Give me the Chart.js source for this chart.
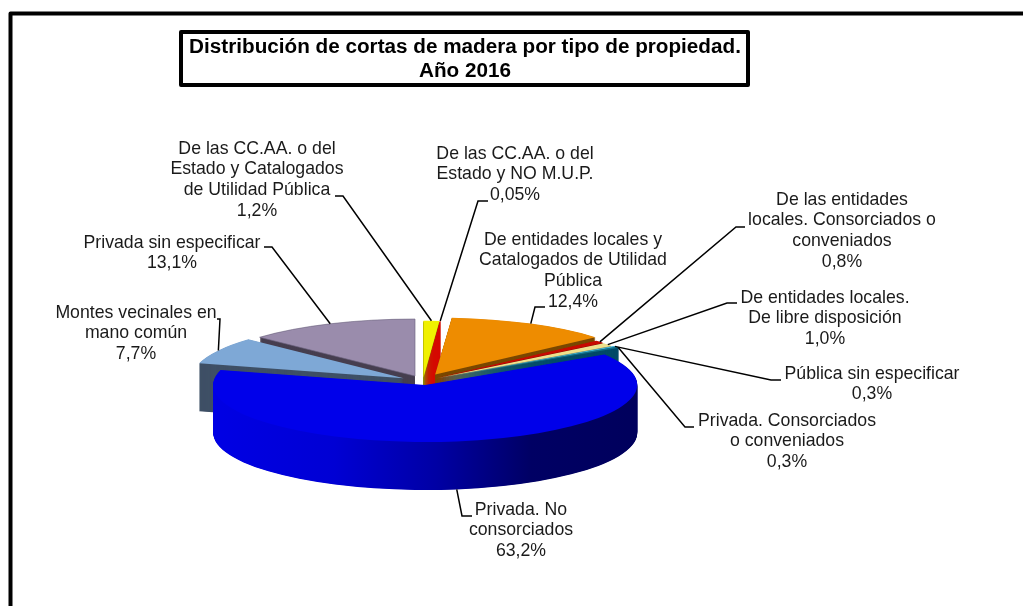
<!DOCTYPE html>
<html>
<head>
<meta charset="utf-8">
<style>html,body{margin:0;padding:0;background:#fff}canvas{display:block}</style>
<script src="https://cdn.jsdelivr.net/npm/chart.js@4/dist/chart.umd.js"></script>
</head>
<body>
<canvas id="c" width="1023" height="606"></canvas>
<script>
// ---- data (clockwise from 12 o'clock) ----
const categories = [
  ["De las CC.AA. o del","Estado y Catalogados","de Utilidad Pública"],
  ["De las CC.AA. o del","Estado y NO M.U.P."],
  ["De entidades locales y","Catalogados de Utilidad","Pública"],
  ["De las entidades","locales. Consorciados o","conveniados"],
  ["De entidades locales.","De libre disposición"],
  ["Pública sin especificar"],
  ["Privada. Consorciados","o conveniados"],
  ["Privada. No","consorciados"],
  ["Montes vecinales en","mano común"],
  ["Privada sin especificar"]
];
const values = [1.2, 0.05, 12.4, 0.8, 1.0, 0.3, 0.3, 63.2, 7.7, 13.1];
const valueLabels = ["1,2%","0,05%","12,4%","0,8%","1,0%","0,3%","0,3%","63,2%","7,7%","13,1%"];
const titleLines = ["Distribución de cortas de madera por tipo de propiedad.","Año 2016"];

// ---- styles ----
const topColors  = ["#f0f000","#d60a00","#ee8c00","#c80a00","#eee08c","#3fb6dc","#0f6f88","#0000ea","#7ea8d6","#9a8cac"];
const sideColors = ["#8c8c00","#d60a00","#7a4800","#7a0600","#8c8450","#1c6f8a","#004a68","#00005c","#3f5066","#473f50"];
const edgeColors = ["#f0f000","#d60a00","#ee8c00","#c80a00","#eee08c","#3fb6dc","#0f6f88","#0000ea","#7ea8d6","#6e6480"];
const edgeWidths = [0,0,0,0,0,0,0,0,0,1];
const explode    = [12,12,27,17,17,19,20,15,22,20];   // radial pull-out of each slice
const drawOrder  = [9,0,1,2,3,4,5,6,8,7];

// ---- 3D projection ----
const pieCx = 423, pieCy = 381, pieR = 212, squash = 0.269, depth = 48;

// ---- label layout: centre x, first line centre y, leader path toward the slice ----
const labelX   = [257,515,573,842,825,872,787,521,136,172];
const labelY   = [149,154,240,200,298,374,421,510,313,243];
const leaders  = [
  [[335,196],[343,196]],
  [[488,201],[478,201]],
  [[545,307],[535,307]],
  [[745,227],[736,227]],
  [[737,303],[727,303]],
  [[781,380],[771,380]],
  [[694,427],[685,427]],
  [[472,516],[462,516]],
  [[217,319],[220,319]],
  [[264,247],[272,247]]
];
const leaderOnSide = [false,false,false,false,false,false,false,true,false,false];
const labelFont = '17.7px "Liberation Sans", Arial, sans-serif';
const lineStep = 20.6;

function place(arc, i) {
  const mid = (arc.startAngle + arc.endAngle) / 2;
  return {
    dx: Math.cos(mid) * explode[i],
    dy: Math.sin(mid) * explode[i],
    mid
  };
}

const pie3d = {
  id: 'pie3d',
  beforeDatasetDraw(chart, args) {
    const ctx = chart.ctx;
    const arcs = args.meta.data;
    const a0 = arcs[0];
    const tx = pieCx - a0.x;
    const sideGrad = ctx.createLinearGradient(212 - tx, 0, 640 - tx, 0);
    sideGrad.addColorStop(0, '#0000e4');
    sideGrad.addColorStop(0.28, '#0000d4');
    sideGrad.addColorStop(0.52, '#0000a4');
    sideGrad.addColorStop(0.74, '#000064');
    sideGrad.addColorStop(1, '#00005c');
    for (const i of drawOrder) {
      const arc = arcs[i];
      const p = place(arc, i);
      const base = arc.options;
      const side = i === 7 ? sideGrad : sideColors[i];
      for (let k = depth; k >= 0; k -= 0.5) {
        ctx.save();
        ctx.translate(pieCx, pieCy + k);
        ctx.scale(1, squash);
        ctx.translate(-arc.x + p.dx, -arc.y + p.dy);
        arc.options = Object.assign({}, base, k === 0
          ? {backgroundColor: topColors[i]}
          : {backgroundColor: side, borderWidth: 0});
        arc.draw(ctx);
        ctx.restore();
      }
      arc.options = base;
    }
    // leader lines and data labels
    ctx.save();
    ctx.strokeStyle = '#000';
    ctx.lineWidth = 1.5;
    ctx.fillStyle = '#1a1a1a';
    ctx.font = labelFont;
    ctx.textAlign = 'center';
    ctx.textBaseline = 'middle';
    arcs.forEach((arc, i) => {
      const p = place(arc, i);
      const ax = pieCx + p.dx + Math.cos(p.mid) * pieR;
      const ay = pieCy + (p.dy + Math.sin(p.mid) * pieR) * squash + (leaderOnSide[i] ? depth : 0);
      ctx.beginPath();
      leaders[i].forEach((q, n) => n ? ctx.lineTo(q[0], q[1]) : ctx.moveTo(q[0], q[1]));
      ctx.lineTo(ax, ay);
      ctx.stroke();
      const lines = categories[i].concat(valueLabels[i]);
      lines.forEach((t, n) => ctx.fillText(t, labelX[i], labelY[i] + n * lineStep));
    });
    ctx.restore();
    return false;
  },
  beforeDraw(chart) {
    const ctx = chart.ctx;
    ctx.save();
    ctx.fillStyle = '#fff';
    ctx.fillRect(0, 0, chart.width, chart.height);
    ctx.strokeStyle = '#000';
    ctx.lineWidth = 4;
    ctx.lineJoin = 'round';
    // outer frame (runs off the right and bottom of the page)
    ctx.beginPath();
    ctx.moveTo(10.5, 620);
    ctx.lineTo(10.5, 13.5);
    ctx.lineTo(1040, 13.5);
    ctx.stroke();
    // title box
    ctx.strokeRect(181, 32, 567, 53);
    ctx.restore();
  }
};

new Chart(document.getElementById('c'), {
  type: 'pie',
  data: {
    labels: categories.map(c => c.join(' ')),
    datasets: [{
      data: values,
      backgroundColor: topColors,
      borderColor: edgeColors,
      borderWidth: edgeWidths,
      radius: pieR,
      offset: 0
    }]
  },
  options: {
    responsive: false,
    animation: false,
    layout: {padding: {top: 0, right: 93, bottom: 0, left: 0}},
    plugins: {
      legend: {display: false},
      tooltip: {enabled: false},
      title: {
        display: true,
        text: titleLines,
        color: '#000',
        font: {family: '"Liberation Sans", Arial, sans-serif', size: 20.7, weight: 'bold', lineHeight: 1.13},
        padding: {top: 36, bottom: 0}
      }
    }
  },
  plugins: [pie3d]
});
</script>
</body>
</html>
